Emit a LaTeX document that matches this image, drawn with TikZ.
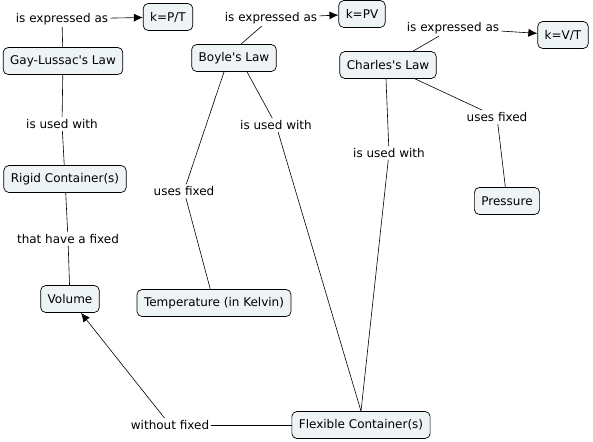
\documentclass[tikz,border=0pt]{standalone}
\usepackage{fontspec}
\setmainfont{DejaVu Sans}
\usetikzlibrary{arrows.meta}
\definecolor{boxfill}{HTML}{EEF3F5}
\tikzset{
  concept/.style={draw=black, fill=boxfill, rounded corners=5pt, inner xsep=7pt, inner ysep=0pt, minimum height=27pt, font=\fontsize{12}{14}\selectfont, line width=0.7pt},
  lbl/.style={inner sep=2pt, font=\fontsize{12}{14}\selectfont},
  link/.style={draw=black, line width=0.6pt},
  arr/.style={link, -{Latex[length=9pt, width=8pt]}}
}
\begin{document}
\begin{tikzpicture}[x=1pt, y=-1pt]
\useasboundingbox (0,0) rectangle (593,441);
% concepts
\node[concept] (kpt) at (168,17) {k=P/T};
\node[concept] (gl) at (63,61) {Gay-Lussac\textquotesingle s Law};
\node[concept] (boyle) at (234,58) {Boyle\textquotesingle s Law};
\node[concept] (kpv) at (362,14) {k=PV};
\node[concept] (kvt) at (563,35) {k=V/T};
\node[concept] (charles) at (388,65) {Charles\textquotesingle s Law};
\node[concept] (rigid) at (65,179) {Rigid Container(s)};
\node[concept] (volume) at (70,299) {Volume};
\node[concept] (temp) at (214,303) {Temperature (in Kelvin)};
\node[concept] (pressure) at (507,201) {Pressure};
\node[concept] (flex) at (361,425) {Flexible Container(s)};
% linking phrases
\node[lbl] (l1) at (62,19) {is expressed as};
\node[lbl] (l2) at (271,18) {is expressed as};
\node[lbl] (l3) at (453,28) {is expressed as};
\node[lbl] (l4) at (62,124) {is used with};
\node[lbl] (l5) at (68,239) {that have a fixed};
\node[lbl] (l6) at (184,191) {uses fixed};
\node[lbl] (l7) at (276,125) {is used with};
\node[lbl] (l8) at (389,153) {is used with};
\node[lbl] (l9) at (497,117) {uses fixed};
\node[lbl] (l10) at (170,425) {without fixed};
% connectors
\coordinate (b1) at ([xshift=7pt]boyle.north);
\draw[link] (b1) -- (l2);
\draw[link] (gl) -- (l1);
\draw[arr] (l1) -- (kpt);
\draw[arr] (l2) -- (kpv);
\draw[link] ([xshift=25pt]charles.north) -- (l3);
\draw[arr] (l3) -- (kvt);
\draw[link] (gl) -- (l4);
\draw[link] (l4) -- (rigid);
\draw[link] (rigid) -- (l5);
\draw[link] (l5) -- (volume);
\draw[link] ([xshift=-10pt]boyle.south) -- (l6);
\draw[link] (l6) -- (temp);
\draw[link] ([xshift=13pt]boyle.south) -- (l7);
\draw[link] (l7) -- (flex.north);
\draw[link] ([xshift=-2pt]charles.south) -- (l8);
\draw[link] (l8) -- (flex.north);
\draw[link] ([xshift=27pt]charles.south) -- (l9);
\draw[link] (l9) -- (pressure);
\draw[link] (flex) -- (l10);
\draw[arr] (l10) -- (volume);
\end{tikzpicture}
\end{document}
